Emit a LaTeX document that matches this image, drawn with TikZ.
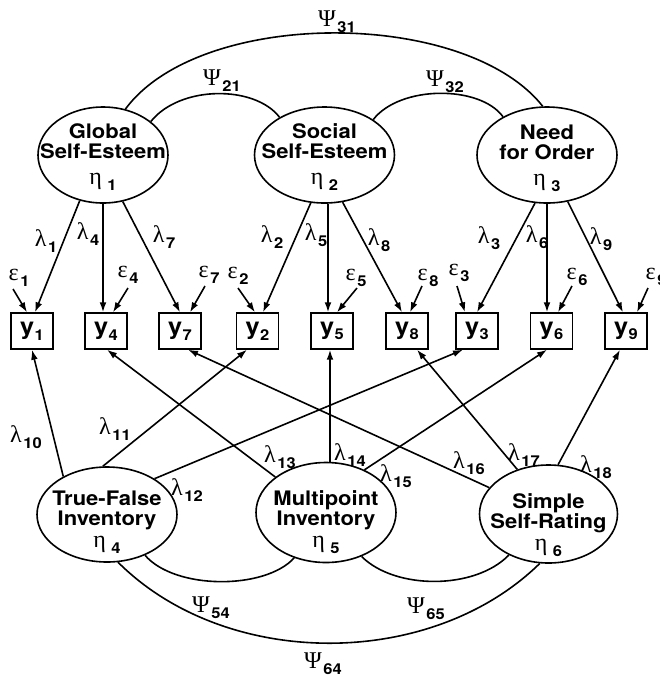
\documentclass[tikz,border=0pt]{standalone}
\usepackage{fontspec}
\setmainfont{TeX Gyre Heros}[FakeStretch=1.1]
\newfontfamily\grk{Liberation Serif}
\usepackage{tikz}
\usetikzlibrary{shapes.geometric,arrows.meta}

\newcommand{\gsym}[2]{{\grk\mdseries\fontsize{12}{12}\selectfont #1}\kern.8pt\raisebox{-.55ex}{\fontsize{7.5}{7.5}\selectfont\bfseries #2}}
\newcommand{\ysym}[1]{y\kern.3pt\raisebox{-.45ex}{\fontsize{7.5}{7.5}\selectfont #1}}

\begin{document}
\begin{tikzpicture}[x=0.5pt,y=-0.5pt,>={Latex[length=5pt,width=3.4pt]},line width=0.8pt,
  latent/.style={draw,ellipse,inner sep=0pt,minimum width=70pt,minimum height=48pt},
  ltext/.style={align=center,inner sep=0pt,font=\bfseries\fontsize{10}{10}\selectfont},
  manifest/.style={draw,rectangle,line width=0.7pt,inner sep=0pt,minimum width=21pt,minimum height=18pt,
    font=\bfseries\fontsize{11.5}{11.5}\selectfont},
  coef/.style={inner sep=0pt}]
\useasboundingbox (0,0) rectangle (660,677);
% latent variables, upper row
\node[latent,minimum width=65pt] (GSE) at (103,155) {};
\node[ltext] (GSEt) at (103,157) {Global\\Self-Esteem\\[3pt]\gsym{η\,}{1}};
\node[latent] (SSE) at (324.5,155) {};
\node[ltext] (SSEt) at (324.5,157) {Social\\Self-Esteem\\[3pt]\gsym{η\,}{2}};
\node[latent] (NFO) at (547,155) {};
\node[ltext] (NFOt) at (547,158) {Need\\for Order\\[3pt]\gsym{η\,}{3}};
% latent variables, lower row
\node[latent,minimum height=47.5pt] (TFI) at (107,514.5) {};
\node[ltext] (TFIt) at (107,522) {True-False\\Inventory\\[1pt]\gsym{η\,}{4}};
\node[latent,minimum height=50pt] (MPI) at (326,512.5) {};
\node[ltext] (MPIt) at (326,522) {Multipoint\\Inventory\\[1pt]\gsym{η\,}{5}};
\node[latent,minimum width=69pt,minimum height=49pt] (SSR) at (548.5,514) {};
\node[ltext] (SSRt) at (548.5,525) {Simple\\Self-Rating\\[1pt]\gsym{η\,}{6}};
% observed measures
\node[manifest] (y1) at (32,331) {\ysym{1}};
\node[manifest] (y4) at (106,331) {\ysym{4}};
\node[manifest] (y7) at (180,331) {\ysym{7}};
\node[manifest] (y2) at (257.5,331) {\ysym{2}};
\node[manifest] (y5) at (332,331) {\ysym{5}};
\node[manifest] (y8) at (407,331) {\ysym{8}};
\node[manifest] (y3) at (477,331) {\ysym{3}};
\node[manifest] (y6) at (551.5,331) {\ysym{6}};
\node[manifest] (y9) at (626,331) {\ysym{9}};
% covariances
\draw (GSE.64) .. controls (200,8) and (465,8) .. (NFO.95);
\draw (GSE.35) .. controls (180,85) and (255,85) .. (SSE.140);
\draw (SSE.36) .. controls (400,85) and (480,85) .. (NFO.139);
\draw (TFI.313) .. controls (175,590) and (265,590) .. (MPI.235);
\draw (MPI.309) .. controls (395,590) and (475,590) .. (SSR.226);
\draw (TFI.283) .. controls (226,670) and (431,670) .. (SSR.260);
\node[coef] (p31) at (337,22) {\gsym{Ψ}{31}};
\node[coef] (p21) at (222,81) {\gsym{Ψ}{21}};
\node[coef] (p32) at (445,82) {\gsym{Ψ}{32}};
\node[coef] (p54) at (211,608) {\gsym{Ψ}{54}};
\node[coef] (p65) at (426,609) {\gsym{Ψ}{65}};
\node[coef] (p64) at (323,664) {\gsym{Ψ}{64}};
% loadings from the upper row
\draw[->] (GSE.243) -- ([xshift=1.5pt]y1.north);
\draw[->] (GSE.south) -- (GSE.south |- y4.north);
\draw[->] (GSE.293) -- (y7.north);
\draw[->] (SSE.254) -- ([xshift=2.75pt]y2.north);
\draw[->] ([xshift=1.75pt]SSE.south) -- ([xshift=-2pt]y5.north);
\draw[->] (SSE.291) -- ([xshift=-2.5pt]y8.north);
\draw[->] (NFO.256) -- (y3.north);
\draw[->] (NFO.south) -- (NFO.south |- y6.north);
\draw[->] (NFO.294) -- ([xshift=-1.5pt]y9.north);
\node[coef] (l1) at (46,241) {\gsym{λ}{1}};
\node[coef] (l4) at (88,234) {\gsym{λ}{4}};
\node[coef] (l7) at (164,237) {\gsym{λ}{7}};
\node[coef] (l2) at (272,237) {\gsym{λ}{2}};
\node[coef] (l5) at (316,235) {\gsym{λ}{5}};
\node[coef] (l8) at (379,240) {\gsym{λ}{8}};
\node[coef] (l3) at (489,238) {\gsym{λ}{3}};
\node[coef] (l6) at (537,237) {\gsym{λ}{6}};
\node[coef] (l9) at (601,239) {\gsym{λ}{9}};
% errors
\node[coef] (e1) at (19,278) {\gsym{ε}{1}};
\node[coef] (e4) at (128,275) {\gsym{ε}{4}};
\node[coef] (e7) at (209,275) {\gsym{ε}{7}};
\node[coef] (e2) at (238,276) {\gsym{ε}{2}};
\node[coef] (e5) at (356,278) {\gsym{ε}{5}};
\node[coef] (e8) at (428,278) {\gsym{ε}{8}};
\node[coef] (e3) at (459,273) {\gsym{ε}{3}};
\node[coef] (e6) at (577,277) {\gsym{ε}{6}};
\node[coef] (e9) at (656,277) {\gsym{ε}{9}};
\coordinate (e1s) at (13,289);
\coordinate (e4s) at (128,288);
\coordinate (e7s) at (205,286);
\coordinate (e2s) at (238,288);
\coordinate (e5s) at (357,288);
\coordinate (e8s) at (422,286);
\coordinate (e3s) at (457,286);
\coordinate (e6s) at (572,286);
\coordinate (e9s) at (648,288);
\draw[->] (e1s) -- ([xshift=-2.5pt]y1.north);
\draw[->] (e4s) -- ([xshift=3.5pt]y4.north);
\draw[->] (e7s) -- ([xshift=5pt]y7.north);
\draw[->] (e2s) -- ([xshift=-1.25pt]y2.north);
\draw[->] (e5s) -- ([xshift=2.5pt]y5.north);
\draw[->] (e8s) -- ([xshift=1.5pt]y8.north);
\draw[->] (e3s) -- ([xshift=-6pt]y3.north);
\draw[->] (e6s) -- ([xshift=3.25pt]y6.north);
\draw[->] (e9s) -- ([xshift=5.5pt]y9.north);
% loadings from the lower row
\draw[->] (TFI.139) -- (y1.south);
\draw[->] (TFI.95) -- ([xshift=-5.25pt]y2.south);
\draw[->] (TFI.37) -- ([xshift=-7pt]y3.south);
\draw[->] (MPI.145) -- ([xshift=.5pt]y4.south);
\draw[<-] ([xshift=-1pt]y5.south) -- ([xshift=-1pt]y5.south |- MPI.north);
\draw[->] (MPI.48) -- ([xshift=-2.25pt]y6.south);
\draw[->] (SSR.156) -- ([xshift=4pt]y7.south);
\draw[->] (SSR.125) -- ([xshift=5pt]y8.south);
\draw[->] (SSR.79) -- ([xshift=-3pt]y9.south);
\node[coef] (l10) at (26,437) {\gsym{λ}{10}};
\node[coef] (l11) at (115,429) {\gsym{λ}{11}};
\node[coef] (l12) at (187,490) {\gsym{λ}{12}};
\node[coef] (l13) at (280,457) {\gsym{λ}{13}};
\node[coef] (l14) at (350,455) {\gsym{λ}{14}};
\node[coef] (l15) at (396,476) {\gsym{λ}{15}};
\node[coef] (l16) at (469,463) {\gsym{λ}{16}};
\node[coef] (l17) at (524,455) {\gsym{λ}{17}};
\node[coef] (l18) at (596,467) {\gsym{λ}{18}};
\end{tikzpicture}
\end{document}
